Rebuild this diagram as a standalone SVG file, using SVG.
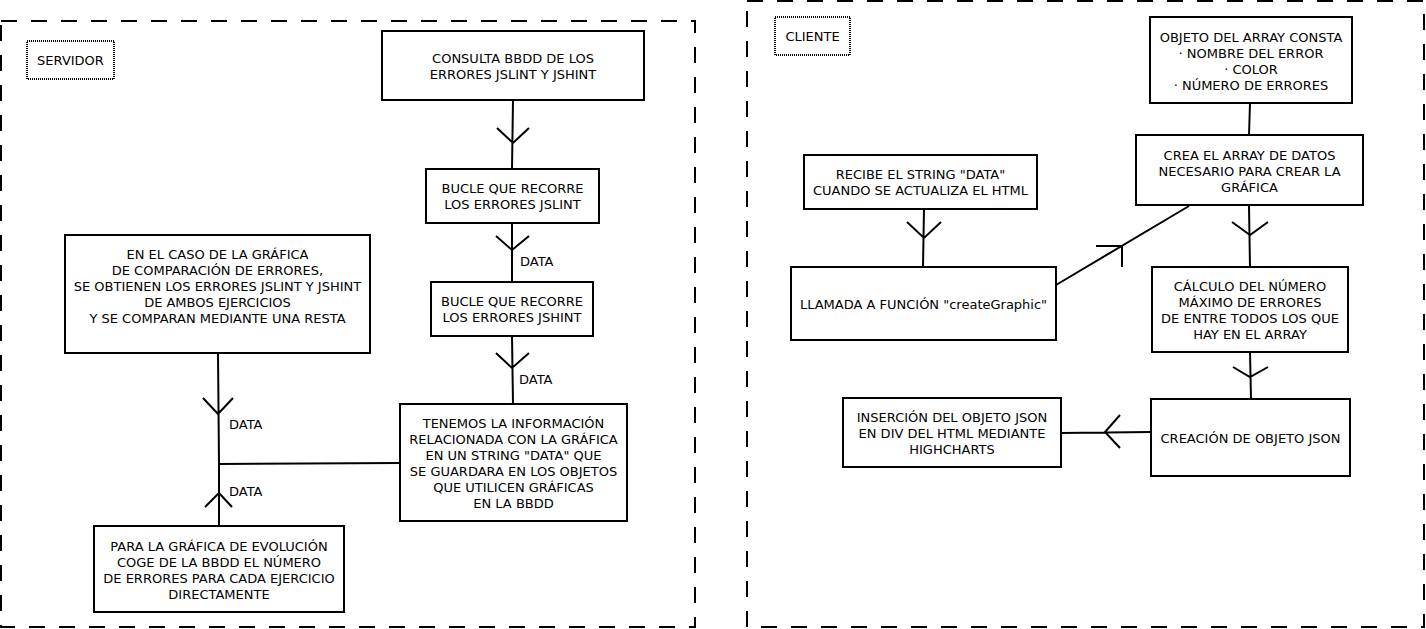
<svg xmlns="http://www.w3.org/2000/svg" width="1426" height="629" viewBox="0 0 1426 629">
<style>
text{font-family:"DejaVu Sans",sans-serif;font-size:13px;fill:#000;text-anchor:middle;dominant-baseline:central}
.lbl{text-anchor:start}
.box{fill:#fff;stroke:#000;stroke-width:2}
.frame{fill:none;stroke:#000;stroke-width:2;stroke-dasharray:16 14}
.tag{fill:#fff;stroke:#000;stroke-width:2;stroke-dasharray:1 1}
.ln{fill:none;stroke:#000;stroke-width:2}
</style>
<rect width="1426" height="629" fill="#fff"/>
<g id="servidor">
<rect class="frame" x="1" y="21" width="694" height="606"/>
<rect class="tag" x="27" y="41" width="87" height="38"/>
<text x="70.5" y="60">SERVIDOR</text>
</g>
<g id="cliente">
<rect class="frame" x="747" y="1" width="677" height="626"/>
<rect class="tag" x="775" y="17" width="75" height="38"/>
<text x="812.5" y="36">CLIENTE</text>
</g>
<g id="connectors">
<path class="ln" d="M513 100 L512 169 M497 128 L513 143 L529 128"/>
<path class="ln" d="M512 223 L512 282 M496 236 L512 250 L529 236"/>
<path class="ln" d="M512 336 L513 404 M496 353 L512 368 L529 353"/>
<path class="ln" d="M218 353 L219 464 L400 463 M203 398 L218 414 L233 398"/>
<path class="ln" d="M219 526 L219 464 M205 507 L219 493 L232 507"/>
<path class="ln" d="M924 209 L923 267 M907 222 L924 238 L941 222"/>
<path class="ln" d="M1056 285 L1189 206 M1096 246 L1123 246 M1122 246 L1122 267"/>
<path class="ln" d="M1250 103 L1249 135"/>
<path class="ln" d="M1249 206 L1250 267 M1232 222 L1250 235 L1268 222"/>
<path class="ln" d="M1250 352 L1251 399 M1233 367 L1250 377 L1268 367"/>
<path class="ln" d="M1151 432 L1061 433 M1120 415 L1105 432 L1120 448"/>
<text class="lbl" x="520" y="261">DATA</text>
<text class="lbl" x="519" y="379">DATA</text>
<text class="lbl" x="229" y="424">DATA</text>
<text class="lbl" x="229" y="491">DATA</text>
</g>
<g id="consulta">
<rect class="box" x="382" y="31" width="262" height="69"/>
<text x="513" y="58">CONSULTA BBDD DE LOS</text>
<text x="513" y="74">ERRORES JSLINT Y JSHINT</text>
</g>
<g id="bucle-jslint">
<rect class="box" x="426" y="169" width="173" height="54"/>
<text x="512.5" y="188">BUCLE QUE RECORRE</text>
<text x="512.5" y="204">LOS ERRORES JSLINT</text>
</g>
<g id="bucle-jshint">
<rect class="box" x="431" y="282" width="162" height="54"/>
<text x="512" y="301">BUCLE QUE RECORRE</text>
<text x="512" y="317">LOS ERRORES JSHINT</text>
</g>
<g id="tenemos">
<rect class="box" x="400" y="404" width="227" height="117"/>
<text x="513.5" y="423">TENEMOS LA INFORMACIÓN</text>
<text x="513.5" y="439">RELACIONADA CON LA GRÁFICA</text>
<text x="513.5" y="455">EN UN STRING "DATA" QUE </text>
<text x="513.5" y="471">SE GUARDARA EN LOS OBJETOS</text>
<text x="513.5" y="487">QUE UTILICEN GRÁFICAS</text>
<text x="513.5" y="503">EN LA BBDD</text>
</g>
<g id="comparacion">
<rect class="box" x="65" y="235" width="305" height="118"/>
<text x="217.5" y="254">EN EL CASO DE LA GRÁFICA</text>
<text x="217.5" y="270">DE COMPARACIÓN DE ERRORES,</text>
<text x="217.5" y="286">SE OBTIENEN LOS ERRORES JSLINT Y JSHINT</text>
<text x="217.5" y="302">DE AMBOS EJERCICIOS</text>
<text x="217.5" y="318">Y SE COMPARAN MEDIANTE UNA RESTA</text>
</g>
<g id="evolucion">
<rect class="box" x="94" y="526" width="250" height="86"/>
<text x="219" y="546">PARA LA GRÁFICA DE EVOLUCIÓN</text>
<text x="219" y="562">COGE DE LA BBDD EL NÚMERO</text>
<text x="219" y="578">DE ERRORES PARA CADA EJERCICIO</text>
<text x="219" y="594">DIRECTAMENTE</text>
</g>
<g id="objeto-array">
<rect class="box" x="1150" y="17" width="202" height="86"/>
<text x="1251" y="37">OBJETO DEL ARRAY CONSTA</text>
<text x="1251" y="53">· NOMBRE DEL ERROR</text>
<text x="1251" y="69">· COLOR</text>
<text x="1251" y="85">· NÚMERO DE ERRORES</text>
</g>
<g id="crea-array">
<rect class="box" x="1136" y="135" width="227" height="70"/>
<text x="1249.5" y="155">CREA EL ARRAY DE DATOS</text>
<text x="1249.5" y="171">NECESARIO PARA CREAR LA</text>
<text x="1249.5" y="187">GRÁFICA</text>
</g>
<g id="recibe">
<rect class="box" x="804" y="155" width="233" height="54"/>
<text x="920.5" y="174">RECIBE EL STRING "DATA"</text>
<text x="920.5" y="190">CUANDO SE ACTUALIZA EL HTML</text>
</g>
<g id="llamada">
<rect class="box" x="791" y="267" width="265" height="73"/>
<text x="923.5" y="304">LLAMADA A FUNCIÓN "createGraphic"</text>
</g>
<g id="calculo">
<rect class="box" x="1152" y="267" width="196" height="85"/>
<text x="1250" y="286">CÁLCULO DEL NÚMERO</text>
<text x="1250" y="302">MÁXIMO DE ERRORES</text>
<text x="1250" y="318">DE ENTRE TODOS LOS QUE</text>
<text x="1250" y="334">HAY EN EL ARRAY</text>
</g>
<g id="json">
<rect class="box" x="1151" y="399" width="199" height="77"/>
<text x="1250.5" y="438">CREACIÓN DE OBJETO JSON</text>
</g>
<g id="insercion">
<rect class="box" x="843" y="398" width="218" height="69"/>
<text x="952" y="417">INSERCIÓN DEL OBJETO JSON</text>
<text x="952" y="433">EN DIV DEL HTML MEDIANTE</text>
<text x="952" y="449">HIGHCHARTS</text>
</g>
</svg>
